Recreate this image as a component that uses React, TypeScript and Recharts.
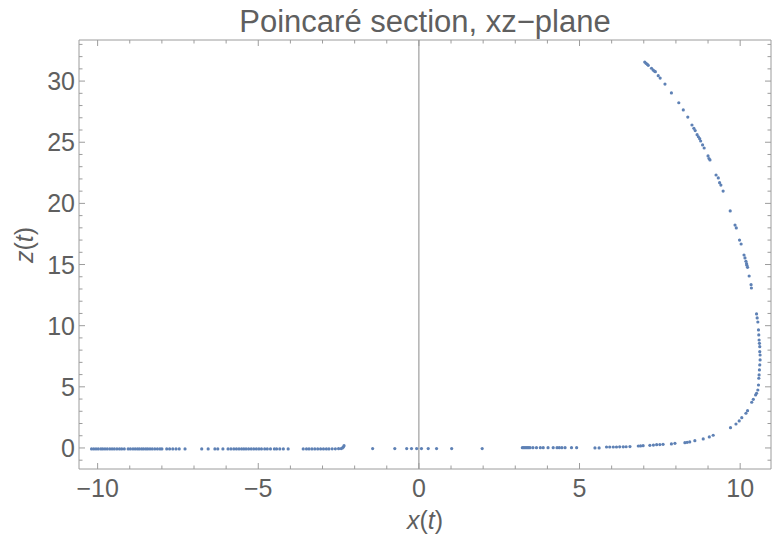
import React from 'react';
import { ScatterChart, Scatter, XAxis, YAxis, ReferenceLine } from 'recharts';

// Points on the lower branch (z ≈ 0), left of and around x = 0
const baselineX = [
  -10.19, -10.12, -10.05, -9.98, -9.9, -9.84, -9.77, -9.7, -9.62, -9.55, -9.48, -9.4, -9.32, -9.25, -9.17,
  -9.05, -8.98, -8.9, -8.83, -8.76, -8.7, -8.63, -8.57, -8.5, -8.44, -8.37, -8.3, -8.22, -8.14, -8.06, -8.0,
  -7.85, -7.76, -7.66, -7.56, -7.46, -7.28,
  -6.76, -6.56, -6.35, -6.26, -6.1,
  -5.94, -5.85, -5.76, -5.68, -5.6, -5.52, -5.45, -5.38, -5.3, -5.22, -5.14, -5.06, -4.98, -4.9, -4.8, -4.72,
  -4.62, -4.5, -4.43, -4.33, -4.22, -4.07,
  -3.6, -3.5, -3.42, -3.33, -3.24, -3.15, -3.06, -2.97, -2.88, -2.8, -2.7, -2.6, -2.5, -2.42,
  -2.38, -2.35, -2.33,
  -1.44, -0.75, -0.38, -0.23, -0.07, 0.08, 0.29, 0.55, 1.02, 1.97,
];
const baselineZ = [
  -0.08, -0.08, -0.08, -0.08, -0.08, -0.08, -0.08, -0.08, -0.08, -0.08, -0.08, -0.08, -0.08, -0.08, -0.08,
  -0.08, -0.08, -0.08, -0.08, -0.08, -0.08, -0.08, -0.08, -0.08, -0.08, -0.08, -0.08, -0.08, -0.08, -0.08, -0.08,
  -0.08, -0.08, -0.08, -0.08, -0.08, -0.08,
  -0.08, -0.08, -0.08, -0.08, -0.08,
  -0.08, -0.08, -0.08, -0.08, -0.08, -0.08, -0.08, -0.08, -0.08, -0.08, -0.08, -0.08, -0.08, -0.08, -0.08, -0.08,
  -0.08, -0.08, -0.08, -0.08, -0.08, -0.08,
  -0.08, -0.08, -0.08, -0.08, -0.08, -0.08, -0.08, -0.08, -0.08, -0.08, -0.07, -0.07, -0.06, -0.05,
  0.0, 0.08, 0.19,
  -0.05, -0.05, -0.05, -0.05, -0.05, -0.05, -0.05, -0.05, -0.05, -0.05,
];

// Points on the right-hand curve, from z ≈ 0 up to the top of the section
const curveX = [
  3.22, 3.26, 3.3, 3.34, 3.38, 3.42, 3.46, 3.55, 3.66, 3.78, 3.87, 4.02, 4.18, 4.3, 4.37, 4.45, 4.55, 4.75, 4.91,
  5.48, 5.61, 5.84, 5.94, 6.05, 6.15, 6.25, 6.36, 6.45, 6.57, 6.83, 6.9, 6.98, 7.19, 7.3, 7.4, 7.5, 7.6,
  7.86, 7.97, 8.28, 8.35, 8.43, 8.59, 8.85, 9.04, 9.16,
  9.7, 9.87, 9.97, 10.05, 10.18, 10.23, 10.36, 10.41, 10.48, 10.51, 10.55, 10.57, 10.58, 10.59, 10.6, 10.61,
  10.62, 10.62, 10.61, 10.61, 10.6, 10.59, 10.58, 10.57, 10.55, 10.53, 10.51,
  10.35, 10.34, 10.28, 10.23, 10.21, 10.2, 10.18, 10.15, 10.12, 10.03, 9.98, 9.88, 9.84, 9.69,
  9.47, 9.4, 9.36, 9.32, 9.25, 9.06, 9.03, 9.0, 8.88, 8.83, 8.77, 8.74, 8.7, 8.66, 8.6, 8.56, 8.5,
  8.37, 8.23, 8.09, 7.86, 7.66, 7.51, 7.45, 7.36, 7.33, 7.29, 7.24, 7.14, 7.11, 7.07, 7.03,
];
const curveZ = [
  0.02, 0.02, 0.02, 0.02, 0.02, 0.02, 0.02, 0.02, 0.02, 0.02, 0.02, 0.02, 0.02, 0.02, 0.02, 0.02, 0.02, 0.02, 0.02,
  0.0, 0.0, 0.08, 0.08, 0.08, 0.08, 0.09, 0.09, 0.1, 0.11, 0.16, 0.17, 0.19, 0.22, 0.24, 0.27, 0.28, 0.3,
  0.33, 0.38, 0.43, 0.46, 0.49, 0.6, 0.74, 0.9, 1.04,
  1.66, 1.96, 2.21, 2.48, 2.84, 3.05, 3.74, 3.98, 4.33, 4.47, 4.74, 5.15, 5.7, 5.97, 6.38, 6.79,
  7.2, 7.6, 7.87, 8.28, 8.56, 8.83, 9.24, 9.65, 10.3, 10.63, 10.96,
  13.08, 13.35, 14.06, 14.77, 14.94, 15.07, 15.27, 15.54, 15.78, 16.68, 17.0, 17.99, 18.23, 19.38,
  21.01, 21.5, 21.69, 22.08, 22.32, 23.55, 23.66, 23.88, 24.53, 24.78, 25.1, 25.29, 25.45, 25.62, 25.95, 26.14, 26.41,
  27.06, 27.64, 28.23, 29.03, 29.76, 30.25, 30.44, 30.77, 30.82, 30.9, 31.05, 31.29, 31.37, 31.45, 31.56,
];

const xTicks = [-10, -9, -8, -7, -6, -5, -4, -3, -2, -1, 0, 1, 2, 3, 4, 5, 6, 7, 8, 9, 10];
const zTicks = [-1, 0, 1, 2, 3, 4, 5, 6, 7, 8, 9, 10, 11, 12, 13, 14, 15, 16, 17, 18, 19, 20, 21, 22, 23, 24, 25, 26, 27, 28, 29, 30, 31, 32, 33];
const xDomain: [number, number] = [-10.58, 10.96];
const zDomain: [number, number] = [-1.72, 33.36];

const title = 'Poincaré section, xz−plane';

const points = [
  ...baselineX.map((x, i) => ({ x, z: baselineZ[i] })),
  ...curveX.map((x, i) => ({ x, z: curveZ[i] })),
];

const FRAME = '#9c9c9c';
const TEXT = '#5f5f5f';
const DOT = '#5e81b5';
const FONT = '"Liberation Sans", Arial, sans-serif';
const MAJOR = 6;
const MINOR = 3.5;

const isMajor = (v: number) => Math.abs(v % 5) < 1e-9;
const fmt = (v: number) => (v < 0 ? '\u2212' + Math.abs(v) : String(v));

function BottomTick(props: any) {
  const { x, y, payload } = props;
  const major = isMajor(payload.value);
  return (
    <g>
      <line x1={x} x2={x} y1={y} y2={y - (major ? MAJOR : MINOR)} stroke={FRAME} strokeWidth={1} />
      {major && (
        <text x={x} y={y + 28} textAnchor="middle" fill={TEXT} fontSize={25} fontFamily={FONT}>
          {fmt(payload.value)}
        </text>
      )}
    </g>
  );
}

function TopTick(props: any) {
  const { x, y, payload } = props;
  const major = isMajor(payload.value);
  return <line x1={x} x2={x} y1={y} y2={y + (major ? MAJOR : MINOR)} stroke={FRAME} strokeWidth={1} />;
}

function LeftTick(props: any) {
  const { x, y, payload } = props;
  const major = isMajor(payload.value);
  return (
    <g>
      <line x1={x} x2={x + (major ? MAJOR : MINOR)} y1={y} y2={y} stroke={FRAME} strokeWidth={1} />
      {major && (
        <text x={x - 4} y={y + 9} textAnchor="end" fill={TEXT} fontSize={25} fontFamily={FONT}>
          {fmt(payload.value)}
        </text>
      )}
    </g>
  );
}

function RightTick(props: any) {
  const { x, y, payload } = props;
  const major = isMajor(payload.value);
  return <line x1={x} x2={x - (major ? MAJOR : MINOR)} y1={y} y2={y} stroke={FRAME} strokeWidth={1} />;
}

const Dot = (p: any) => <circle cx={p.cx} cy={p.cy} r={1.6} fill={DOT} />;

export default function App() {
  return (
    <div style={{ position: 'absolute', left: 0, top: 0, width: 772, height: 544, background: '#fff', fontFamily: FONT }}>
      <ScatterChart width={772} height={544} margin={{ top: 39, right: 0, bottom: 25, left: 19 }}>
        <XAxis
          xAxisId="b"
          dataKey="x"
          type="number"
          orientation="bottom"
          domain={xDomain}
          allowDataOverflow
          ticks={xTicks}
          interval={0}
          tickSize={0}
          tickMargin={0}
          tickLine={false}
          tick={<BottomTick />}
          axisLine={{ stroke: FRAME }}
          height={50}
        />
        <XAxis
          xAxisId="t"
          dataKey="x"
          type="number"
          orientation="top"
          domain={xDomain}
          allowDataOverflow
          ticks={xTicks}
          interval={0}
          tickSize={0}
          tickMargin={0}
          tickLine={false}
          tick={<TopTick />}
          axisLine={{ stroke: FRAME }}
          height={1}
        />
        <YAxis
          yAxisId="l"
          dataKey="z"
          type="number"
          orientation="left"
          domain={zDomain}
          allowDataOverflow
          ticks={zTicks}
          interval={0}
          tickSize={0}
          tickMargin={0}
          tickLine={false}
          tick={<LeftTick />}
          axisLine={{ stroke: FRAME }}
          width={60}
        />
        <YAxis
          yAxisId="r"
          dataKey="z"
          type="number"
          orientation="right"
          domain={zDomain}
          allowDataOverflow
          ticks={zTicks}
          interval={0}
          tickSize={0}
          tickMargin={0}
          tickLine={false}
          tick={<RightTick />}
          axisLine={{ stroke: FRAME }}
          width={1}
        />
        <ReferenceLine xAxisId="b" yAxisId="l" x={0} stroke="#8a8a8a" strokeWidth={1} />
        <Scatter xAxisId="b" yAxisId="l" data={points} shape={Dot} isAnimationActive={false} />
      </ScatterChart>
      <div
        style={{
          position: 'absolute', left: 79, width: 692, top: 5, textAlign: 'center',
          fontSize: 31, lineHeight: '34px', color: TEXT, whiteSpace: 'nowrap',
        }}
      >
        {title}
      </div>
      <div
        style={{
          position: 'absolute', left: 79, width: 692, top: 505, textAlign: 'center',
          fontSize: 25, lineHeight: '30px', color: TEXT, whiteSpace: 'nowrap',
        }}
      >
        <i>x</i>(<i>t</i>)
      </div>
      <div
        style={{
          position: 'absolute', left: 24, top: 245, width: 0, height: 0,
        }}
      >
        <div
          style={{
            position: 'absolute', left: -50, top: -15, width: 100, textAlign: 'center',
            fontSize: 25, lineHeight: '30px', color: TEXT, whiteSpace: 'nowrap',
            transform: 'rotate(-90deg)',
          }}
        >
          <i>z</i>(<i>t</i>)
        </div>
      </div>
    </div>
  );
}
